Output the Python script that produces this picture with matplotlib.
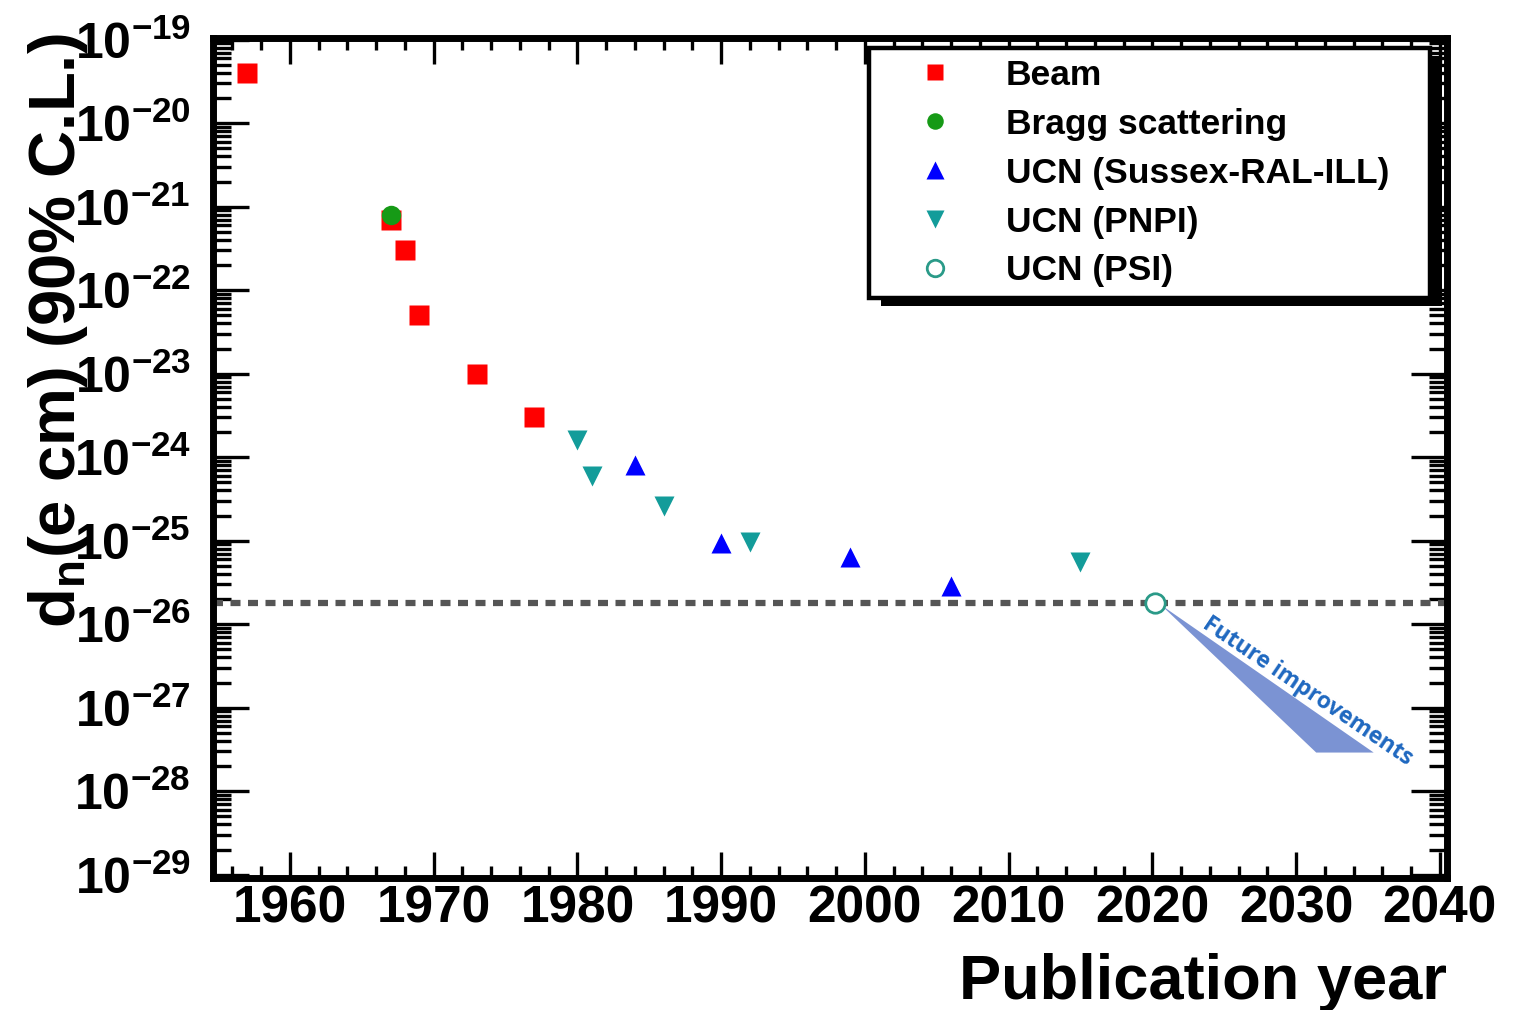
import matplotlib
matplotlib.use("Agg")
import matplotlib.pyplot as plt
from matplotlib.patches import Polygon, Rectangle

# ---------------- data ----------------
beam_year = [1957, 1967, 1968, 1969, 1973, 1977]
beam_val = [4e-20, 7e-22, 3e-22, 5e-23, 1e-23, 3e-24]

bragg_year = [1967]
bragg_val = [8e-22]

sussex_year = [1984, 1990, 1999, 2006]
sussex_val = [8e-25, 9.3e-26, 6.3e-26, 2.9e-26]

pnpi_year = [1980, 1981, 1986, 1992, 2015]
pnpi_val = [1.6e-24, 6e-25, 2.6e-25, 9.7e-26, 5.5e-26]

psi_year = [2020.2]
psi_val = [1.8e-26]

current_limit = 1.8e-26

future_x = [2020.6, 2031.4, 2035.4]
future_y = [1.7e-26, 2.9e-28, 2.9e-28]
future_text_pos = (2030.8, 1.55e-27)

xtick_major = list(range(1960, 2041, 10))
xtick_minor = list(range(1956, 2041, 2))
ytick_exps = list(range(-29, -18))
xtick_labels = [str(v) for v in xtick_major]
ytick_labels = [r'$\mathbf{10^{%d}}$' % e for e in ytick_exps]

legend_labels = ['Beam', 'Bragg scattering', 'UCN (Sussex-RAL-ILL)',
                 'UCN (PNPI)', 'UCN (PSI)']

# ---------------- style ----------------
plt.rcParams['font.family'] = ['Liberation Sans', 'DejaVu Sans']
plt.rcParams['font.weight'] = 'bold'
plt.rcParams['mathtext.fontset'] = 'custom'
plt.rcParams['mathtext.rm'] = 'Liberation Sans:bold'
plt.rcParams['mathtext.bf'] = 'Liberation Sans:bold'
plt.rcParams['mathtext.it'] = 'Liberation Sans:bold:italic'
plt.rcParams['mathtext.default'] = 'bf'

W, H = 1524, 1010
fig = plt.figure(figsize=(W / 100, H / 100), dpi=100)
L, R, T, B = 213, 1447, 38, 878
ax = fig.add_axes([L / W, 1 - B / H, (R - L) / W, (B - T) / H])

ax.set_yscale('log')
ax.set_xlim(1954.65, 2040.5)
ax.set_ylim(10 ** -29.04, 10 ** -18.98)

# data
ms = 14
ax.plot(beam_year, beam_val, 's', color='#ff0000', ms=ms, mec='none', label=legend_labels[0], zorder=3)
ax.plot(bragg_year, bragg_val, 'o', color='#169a16', ms=ms, mec='none', label=legend_labels[1], zorder=4)
ax.plot(sussex_year, sussex_val, '^', color='#0000ff', ms=ms + 1, mec='none', label=legend_labels[2], zorder=3)
ax.plot(pnpi_year, pnpi_val, 'v', color='#139c9a', ms=ms + 1, mec='none', label=legend_labels[3], zorder=3)
ax.plot(psi_year, psi_val, 'o', mfc='white', mec='#2a9a88', mew=2, ms=ms, label=legend_labels[4], zorder=5)

ax.axhline(current_limit, color='#555555', lw=4.5, linestyle=(0, (1.6, 1.2)), zorder=2)

ax.add_patch(Polygon(list(zip(future_x, future_y)), closed=True,
                     facecolor='#7b93d3', edgecolor='none', zorder=2))
ax.text(future_text_pos[0], future_text_pos[1], 'Future improvements',
        rotation=-34, ha='center', va='center', color='#1f68c0',
        fontsize=16.5, fontweight='bold', family=['Open Sans', 'DejaVu Sans'], zorder=6)

# ticks
ax.set_xticks(xtick_major, labels=xtick_labels)
ax.set_xticks(xtick_minor, minor=True)
ax.set_yticks([10.0 ** e for e in ytick_exps], labels=ytick_labels)
ax.set_yticks([m * 10.0 ** e for e in ytick_exps[:-1] for m in range(2, 10)], minor=True)
ax.tick_params(axis='y', which='minor', labelleft=False)

ax.xaxis.set_tick_params(which='major', direction='in', length=19, width=2.4,
                         top=True, bottom=True, labelsize=37, pad=5)
ax.xaxis.set_tick_params(which='minor', direction='in', length=8.5, width=2.4,
                         top=True, bottom=True)
ax.yaxis.set_tick_params(which='major', direction='in', length=26, width=2.4,
                         left=True, right=True, labelsize=36, pad=16)
ax.yaxis.set_tick_params(which='minor', direction='in', length=13, width=2.4,
                         left=True, right=True)
for lab in ax.get_xticklabels():
    lab.set_fontweight('bold')

for s in ax.spines.values():
    s.set_linewidth(5)

# labels
ax.set_xlabel('Publication year', fontsize=45.5, fontweight='bold', loc='right', labelpad=14)
ax.set_ylabel(r'd$_{\mathbf{n}}$(e cm) (90% C.L.)', fontsize=47, fontweight='bold',
              va='center', ha='center')
ax.yaxis.set_label_coords(-0.126, 0.652)

# legend
leg = ax.legend(loc='upper left', bbox_to_anchor=(0.532, 0.69, 0.454, 0.298),
                mode='expand', borderaxespad=0, fontsize=25.5, numpoints=1,
                markerscale=0.85, frameon=True, fancybox=False, framealpha=1,
                edgecolor='black', borderpad=0.3, handlelength=3.1,
                handletextpad=0.45, labelspacing=0.45)
leg.get_frame().set_linewidth(3.2)
leg.set_zorder(10)
for t in leg.get_texts():
    t.set_fontweight('bold')

fig.canvas.draw()
bb = leg.get_window_extent()
dx, dy = 12, 8
shadow = Rectangle(((bb.x0 + dx) / W, (bb.y0 - dy) / H), bb.width / W, bb.height / H,
                   transform=fig.transFigure, facecolor='black', edgecolor='none',
                   zorder=9)
ax.add_artist(shadow)
shadow.set_clip_on(False)

fig.savefig('out.png', dpi=100)
